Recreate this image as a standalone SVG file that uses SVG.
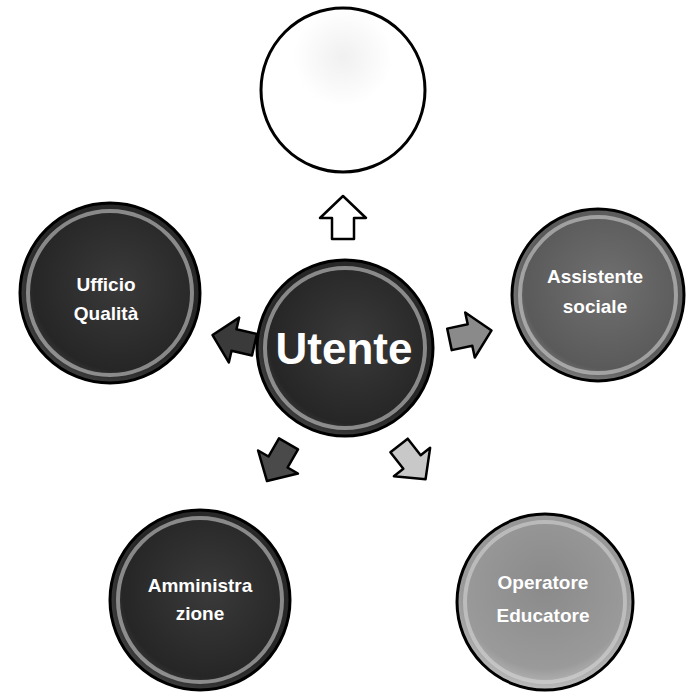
<svg xmlns="http://www.w3.org/2000/svg" width="688" height="692" viewBox="0 0 688 692">
<defs>
<radialGradient id="gDark" cx="0.55" cy="0.45" r="0.6">
<stop offset="0" stop-color="#3a3a3a"/><stop offset="0.8" stop-color="#262626"/><stop offset="1" stop-color="#4a4a4a"/>
</radialGradient>
<radialGradient id="gMid" cx="0.55" cy="0.45" r="0.6">
<stop offset="0" stop-color="#707070"/><stop offset="0.8" stop-color="#5a5a5a"/><stop offset="1" stop-color="#8a8a8a"/>
</radialGradient>
<radialGradient id="gLight" cx="0.5" cy="0.4" r="0.6">
<stop offset="0" stop-color="#8a8a8a"/><stop offset="0.8" stop-color="#9a9a9a"/><stop offset="1" stop-color="#bcbcbc"/>
</radialGradient>
<radialGradient id="gWhite" cx="0.5" cy="0.3" r="0.6">
<stop offset="0" stop-color="#f0f0f0"/><stop offset="0.5" stop-color="#ffffff"/><stop offset="1" stop-color="#ffffff"/>
</radialGradient>
<path id="arr" d="M0,-22 L23,0 L11,0 L11,21 L-11,21 L-11,0 L-23,0 Z"/>
</defs>
<style>
.ring{stroke:#000;stroke-width:3}
.hl{fill:none;stroke:#d8d8d8;stroke-width:4;stroke-opacity:0.55}
.lbl{font-family:"Liberation Sans",Arial,sans-serif;font-weight:bold;fill:#fff;text-anchor:middle}
.sm{font-size:19px}
.arrow{stroke:#000;stroke-width:2.5;stroke-linejoin:round}
</style>
<g id="connectors">
<use href="#arr" class="arrow" fill="#ffffff" transform="translate(343,218)"/>
<use href="#arr" class="arrow" fill="#3a3a3a" transform="translate(234,340) rotate(-77)"/>
<use href="#arr" class="arrow" fill="#8a8a8a" transform="translate(470,335) rotate(78)"/>
<use href="#arr" class="arrow" fill="#4a4a4a" transform="translate(278,462) rotate(-150)"/>
<use href="#arr" class="arrow" fill="#c8c8c8" transform="translate(412,462) rotate(142)"/>
</g>
<g id="node-top">
<circle cx="343" cy="90" r="82" fill="url(#gWhite)" class="ring"/>
</g>
<g id="node-utente">
<circle cx="345" cy="348" r="88" fill="url(#gDark)" class="ring"/>
<circle cx="345" cy="348" r="80" class="hl"/>
<text x="344" y="364" class="lbl" font-size="44">Utente</text>
</g>
<g id="node-ufficio">
<circle cx="110" cy="293" r="90" fill="url(#gDark)" class="ring"/>
<circle cx="110" cy="293" r="82" class="hl"/>
<text x="106" y="291" class="lbl sm">Ufficio</text>
<text x="106" y="320" class="lbl sm">Qualità</text>
</g>
<g id="node-assistente">
<circle cx="598" cy="295" r="86" fill="url(#gMid)" class="ring"/>
<circle cx="598" cy="295" r="78" class="hl"/>
<text x="595" y="283" class="lbl sm">Assistente</text>
<text x="595" y="313" class="lbl sm">sociale</text>
</g>
<g id="node-amministrazione">
<circle cx="200" cy="600" r="90" fill="url(#gDark)" class="ring"/>
<circle cx="200" cy="600" r="82" class="hl"/>
<text x="200" y="592" class="lbl sm">Amministra</text>
<text x="200" y="620" class="lbl sm">zione</text>
</g>
<g id="node-operatore">
<circle cx="545" cy="602" r="88" fill="url(#gLight)" class="ring"/>
<circle cx="545" cy="602" r="80" class="hl"/>
<text x="543" y="589" class="lbl sm">Operatore</text>
<text x="543" y="622" class="lbl sm">Educatore</text>
</g>
</svg>
